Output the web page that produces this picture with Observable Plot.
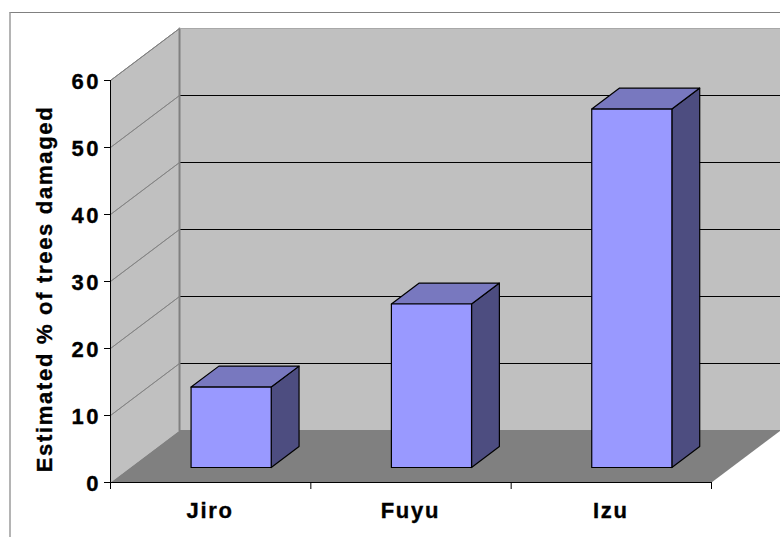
<!DOCTYPE html>
<html>
<head>
<meta charset="utf-8">
<script src="https://cdn.jsdelivr.net/npm/d3@7"></script>
<script src="https://cdn.jsdelivr.net/npm/@observablehq/plot@0.6"></script>
<style>
html,body{margin:0;padding:0;background:#fff;overflow:hidden}
#wrap{position:relative;width:780px;height:537px;overflow:hidden}
#frame{position:absolute;left:9px;top:12px;width:800px;height:600px;border-left:2px solid #b4b4b4;border-top:1px solid #808080}
#wrap svg{position:absolute;left:0;top:0;font-family:"Liberation Sans",Arial,sans-serif}
#wrap svg text{font-weight:bold;fill:#000;stroke:#000;stroke-width:0.35px}
</style>
</head>
<body>
<div id="wrap"><div id="frame"></div></div>
<script>
const categories = ["Jiro", "Fuyu", "Izu"];
const damage = [12, 24.4, 53.5];
const yTicks = [0, 10, 20, 30, 40, 50, 60];
const xTicks = [0, 1, 2, 3];
const yTitle = "Estimated % of trees damaged";

// oblique projection: depth 0 is the front plane, depth 1 the back wall
const depthX = 0.3445, depthY = 7.761;
const barWidth = 0.4, barFront = 0.2885, barBack = 0.692;
const pt = (x, y, d = 0) => ({x: x + d * depthX, y: y + d * depthY});
const face = (pts, fill, stroke = "none", strokeWidth = 1) =>
  Plot.line([...pts, pts[0]], {x: "x", y: "y", fill, stroke, strokeWidth, curve: "linear"});

const xMax = xTicks[xTicks.length - 1], yMax = yTicks[yTicks.length - 1];

const marks = [
  // side wall, back wall, floor
  face([pt(0,0,0), pt(0,0,1), pt(0,yMax,1), pt(0,yMax,0)], "#c0c0c0"),
  face([pt(0,0,1), pt(xMax,0,1), pt(xMax,yMax,1), pt(0,yMax,1)], "#c0c0c0"),
  face([pt(0,0,0), pt(xMax,0,0), pt(xMax,0,1), pt(0,0,1)], "#808080"),
  // gridlines
  ...yTicks.slice(1, -1).map(v => face([pt(0,v,1), pt(xMax,v,1)], "none", "#000")),
  ...yTicks.slice(1, -1).map(v => face([pt(0,v,0), pt(0,v,1)], "none", "#808080", 0.8)),
  // wall edges
  face([pt(0,0,1), pt(0,yMax,1)], "none", "#808080", 2),
  face([pt(0,0,1), pt(xMax,0,1)], "none", "#808080", 1),
  face([pt(0,yMax,1), pt(xMax,yMax,1)], "none", "#a8a8a8", 1),
  face([pt(0,yMax,0), pt(0,yMax,1)], "none", "#808080", 1),
  // bars
  ...damage.flatMap((v, i) => {
    const x0 = i + 0.5028 - barWidth / 2, x1 = x0 + barWidth;
    return [
      face([pt(x1,0,barFront), pt(x1,0,barBack), pt(x1,v,barBack), pt(x1,v,barFront)], "#4d4d80", "#000", 1.2),
      face([pt(x0,v,barFront), pt(x1,v,barFront), pt(x1,v,barBack), pt(x0,v,barBack)], "#7878bf", "#000", 1.2),
      face([pt(x0,0,barFront), pt(x1,0,barFront), pt(x1,v,barFront), pt(x0,v,barFront)], "#9999ff", "#000", 1.2)
    ];
  }),
  // axes
  Plot.ruleX([0], {y1: 0, y2: yMax, stroke: "#000"}),
  Plot.ruleY([0], {x1: 0, x2: xMax, stroke: "#000"}),
  Plot.axisY({ticks: yTicks, tickSize: 6, tickFormat: () => "", label: null, stroke: "#000"}),
  Plot.axisX({ticks: xTicks, tickSize: 7, tickFormat: () => "", label: null, stroke: "#000"}),
  Plot.text(yTicks, {x: () => 0, y: d => d, dx: -9.5, dy: 1, textAnchor: "end", text: d => String(d), fontSize: 22, fontWeight: "bold", fill: "#000"}),
  Plot.text(categories, {x: (d, i) => i + 0.497, y: () => 0, dy: 28, text: d => d, fontSize: 22, fontWeight: "bold", fill: "#000"}),
  Plot.text([yTitle], {frameAnchor: "left", dx: -66, dy: 7.5, rotate: -90, textAnchor: "middle", text: d => d, fontSize: 22, fontWeight: "bold", fill: "#000"})
];

const chart = Plot.plot({
  width: 780, height: 537,
  marginLeft: 110, marginRight: 69, marginTop: 80, marginBottom: 55,
  style: {background: "transparent", overflow: "visible"},
  x: {domain: [0, xMax], axis: null},
  y: {domain: [0, yMax], axis: null},
  marks
});
document.getElementById("wrap").appendChild(chart);
chart.querySelectorAll("text").forEach(t => {
  const s = t.textContent;
  t.style.letterSpacing = /^\d+$/.test(s) ? "2.5px" : "1.7px";
});
</script>
</body>
</html>
